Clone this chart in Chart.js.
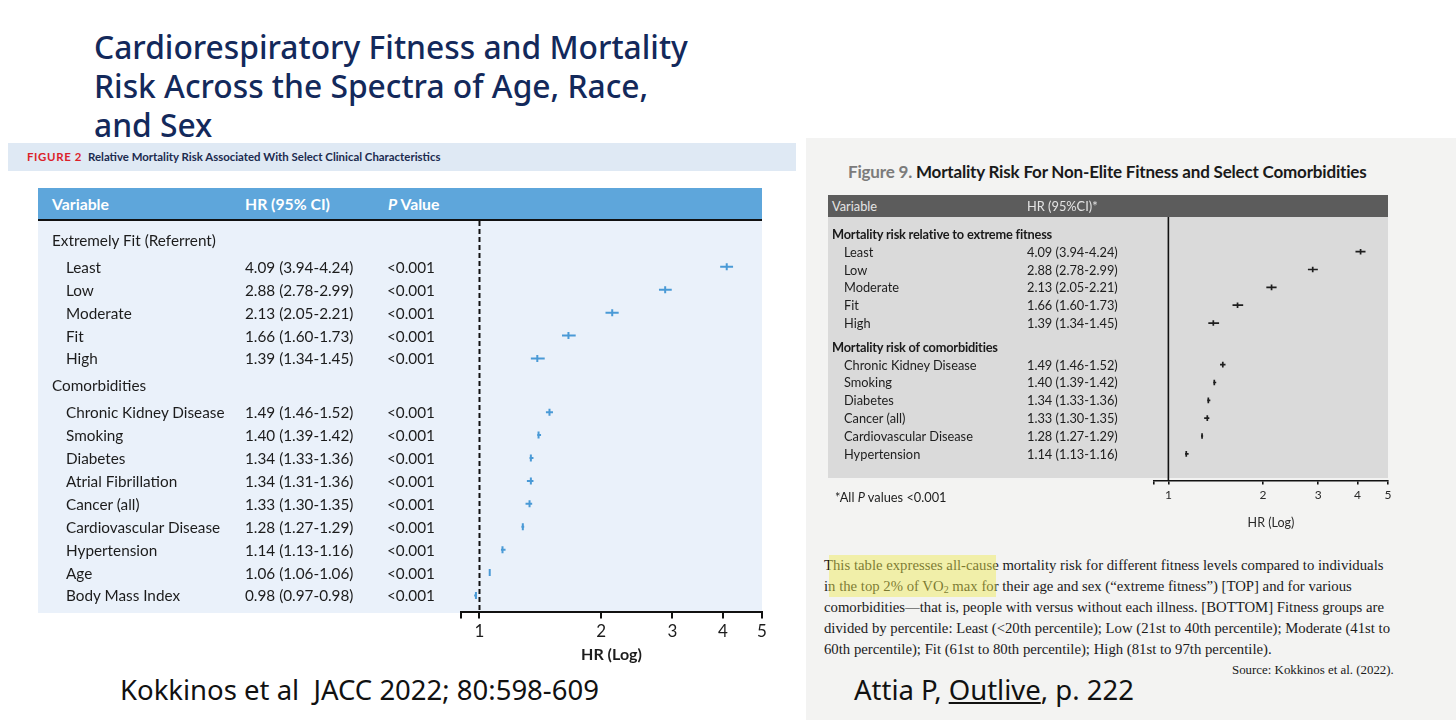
<!DOCTYPE html>
<html>
<head>
<meta charset="utf-8">
<script src="https://cdn.jsdelivr.net/npm/chart.js@4.4.1/dist/chart.umd.min.js"></script>
<style>
html, body { margin: 0; padding: 0; background: #fff; }
#page { position: relative; width: 1456px; height: 720px; overflow: hidden; font-family: Lato, "Noto Sans", sans-serif; }
.abs { position: absolute; white-space: nowrap; }
.box { position: absolute; }
.title { color: #13295b; font-family: "Noto Sans", sans-serif; font-weight: 500; }
.band-red { color: #dc1f2a; font-weight: 700; letter-spacing: 0.6px; transform-origin: 0 50%; }
.band-txt { color: #1b2b4f; font-weight: 700; transform-origin: 0 50%; }
.lhead { color: #fff; font-weight: 700; }
.ltxt { color: #1c1c1c; }
.rtxt { color: #1d1d1d; }
.rbold { color: #1a1a1a; font-weight: 700; letter-spacing: -0.2px; }
.rhead { color: #e4e4e4; }
.serif { font-family: "Liberation Serif", serif; color: #1a1a1a; }
.credit { font-family: "Noto Sans", sans-serif; color: #111; }
</style>
</head>
<body>
<div id="page">
  <div class="box" style="left:806px;top:138px;width:650px;height:582px;background:#f3f3f2;"></div>
  <div class="box" style="left:8px;top:143px;width:788px;height:28px;background:#dfe9f4;"></div>
  <div class="box" style="left:38px;top:188px;width:724px;height:31px;background:#5ea6db;border-bottom:2px solid #111;"></div>
  <div class="box" style="left:38px;top:221px;width:724px;height:392px;background:#eaf1fa;"></div>
  <div class="box" style="left:828px;top:195px;width:560px;height:22px;background:#5c5c5c;"></div>
  <div class="box" style="left:828px;top:217px;width:560px;height:261px;background:#dadada;"></div>
  <div class="box" style="left:38px;top:221px;width:752px;height:446px;"><canvas id="leftChart"></canvas></div>
  <div class="box" style="left:828px;top:217px;width:580px;height:316px;"><canvas id="rightChart"></canvas></div>
</div>
<script>
// values
const fitLabels = ["Least", "Low", "Moderate", "Fit", "High"];
const fitHR = [4.09, 2.88, 2.13, 1.66, 1.39];
const fitLow = [3.94, 2.78, 2.05, 1.60, 1.34];
const fitHigh = [4.24, 2.99, 2.21, 1.73, 1.45];

const comorbLabels = ["Chronic Kidney Disease", "Smoking", "Diabetes", "Atrial Fibrillation", "Cancer (all)",
  "Cardiovascular Disease", "Hypertension", "Age", "Body Mass Index"];
const comorbHR = [1.49, 1.40, 1.34, 1.34, 1.33, 1.28, 1.14, 1.06, 0.98];
const comorbLow = [1.46, 1.39, 1.33, 1.31, 1.30, 1.27, 1.13, 1.06, 0.97];
const comorbHigh = [1.52, 1.42, 1.36, 1.36, 1.35, 1.29, 1.16, 1.06, 0.98];
const pValueText = "<0.001";

const bookLabels = ["Chronic Kidney Disease", "Smoking", "Diabetes", "Cancer (all)", "Cardiovascular Disease", "Hypertension"];
const bookHR = [1.49, 1.40, 1.34, 1.33, 1.28, 1.14];
const bookLow = [1.46, 1.39, 1.33, 1.30, 1.27, 1.13];
const bookHigh = [1.52, 1.42, 1.36, 1.35, 1.29, 1.16];

const leftGroups = ["Extremely Fit (Referrent)", "Comorbidities"];
const rightGroups = ["Mortality risk relative to extreme fitness", "Mortality risk of comorbidities"];
const hrTicks = [1, 2, 3, 4, 5];
const axisMin = 0.9;
const axisMax = 5;

const captionLines = [
  "This table expresses all-cause mortality risk for different fitness levels compared to individuals",
  "in the top 2% of VO<span style=\"font-size:68%;vertical-align:-2px\">2</span> max for their age and sex (\u201cextreme fitness\u201d) [TOP] and for various",
  "comorbidities\u2014that is, people with versus without each illness. [BOTTOM] Fitness groups are",
  "divided by percentile: Least (&lt;20th percentile); Low (21st to 40th percentile); Moderate (41st to",
  "60th percentile); Fit (61st to 80th percentile); High (81st to 97th percentile)."
];

const page = document.getElementById("page");
const mctx = document.createElement("canvas").getContext("2d");

function textWidth(text, weight, size, family) {
  mctx.font = `${weight} ${size}px ${family}`;
  return mctx.measureText(text).width;
}

function sizeFor(text, weight, family, target) {
  return 100 * target / textWidth(text, weight, 100, family);
}

function addText(html, x, y, cls, fs, lh) {
  const d = document.createElement("div");
  d.className = "abs " + cls;
  d.innerHTML = html;
  d.style.left = x + "px";
  d.style.top = (y - lh / 2) + "px";
  d.style.lineHeight = lh + "px";
  d.style.fontSize = fs + "px";
  page.appendChild(d);
  return d;
}

// condensed text: fixed size, squeezed horizontally to the measured width
function addSqueezed(text, x, y, cls, fs, weight, target) {
  const d = addText(text, x, y, cls, fs, 16);
  const w = textWidth(text, weight, fs, "Lato");
  d.style.transform = `scaleX(${(target / w).toFixed(3)})`;
  return d;
}

function fmtHR(v, lo, hi) {
  return `${v.toFixed(2)} (${lo.toFixed(2)}-${hi.toFixed(2)})`;
}

// row offsets inside the plot: group headers with their items
function rowLayout(sizes, first, headToItem, step, itemToHead) {
  const heads = [], items = [];
  let y = first;
  sizes.forEach(n => {
    heads.push(y);
    const list = [];
    y += headToItem;
    for (let i = 0; i < n; i++) {
      list.push(y);
      if (i < n - 1) y += step;
    }
    items.push(list);
    y += itemToHead;
  });
  return { heads, items };
}

function forestDatasets(hr, lo, hi, ys, color, lineW, tickR) {
  const ds = [{
    type: "scatter",
    data: hr.map((v, i) => ({ x: v, y: ys[i] })),
    pointStyle: "line",
    rotation: 90,
    pointRadius: tickR,
    pointHoverRadius: tickR,
    borderColor: color,
    borderWidth: lineW
  }];
  hr.forEach((v, i) => {
    ds.push({
      type: "line",
      data: [{ x: lo[i], y: ys[i] }, { x: hi[i], y: ys[i] }],
      borderColor: color,
      borderWidth: lineW,
      pointRadius: 0
    });
  });
  return ds;
}

function makeForest(id, datasets, o) {
  return new Chart(document.getElementById(id), {
    type: "scatter",
    data: { datasets },
    options: {
      responsive: true,
      maintainAspectRatio: false,
      animation: false,
      events: [],
      layout: { autoPadding: false, padding: { left: o.padLeft, right: o.padRight, top: 0, bottom: 0 } },
      plugins: { legend: { display: false }, tooltip: { enabled: false } },
      scales: {
        x: {
          type: "logarithmic",
          min: axisMin,
          max: axisMax,
          afterBuildTicks: axis => { axis.ticks = [axisMin, ...hrTicks].map(v => ({ value: v })); },
          ticks: {
            callback: v => hrTicks.includes(v) ? String(v) : "",
            font: { size: o.tickSize, family: "Lato" },
            color: o.textColor,
            padding: 3,
            maxRotation: 0,
            autoSkip: false
          },
          grid: { drawOnChartArea: false, drawTicks: true, tickLength: o.tickLen, color: "#111", lineWidth: o.axisW },
          border: { display: true, color: "#111", width: o.axisW },
          title: {
            display: true,
            text: "HR (Log)",
            color: o.textColor,
            font: { size: o.titleSize, weight: o.titleWeight, family: "Lato" },
            padding: { top: o.titlePad, bottom: 3 }
          }
        },
        y: { type: "linear", reverse: true, min: 0, max: o.yMax, display: false }
      }
    }
  });
}

function build() {
  // ---------- left figure ----------
  const titleFs = sizeFor("Cardiorespiratory Fitness and Mortality", 500, '"Noto Sans"', 594);
  addText("Cardiorespiratory Fitness and Mortality", 94, 46, "title", titleFs, 39);
  addText("Risk Across the Spectra of Age, Race,", 94, 85, "title", titleFs, 39);
  addText("and Sex", 94, 124, "title", titleFs, 39);

  addSqueezed("FIGURE 2", 27, 157, "band-red", 11, 700, 50);
  addSqueezed("Relative Mortality Risk Associated With Select Clinical Characteristics", 88, 157, "band-txt", 11.5, 700, 353);

  const lHeadFs = sizeFor("HR (95% CI)", 700, "Lato", 85);
  addText("Variable", 52, 204, "lhead", lHeadFs, 20);
  addText("HR (95% CI)", 245, 204, "lhead", lHeadFs, 20);
  addText("<i>P</i> Value", 388, 204, "lhead", lHeadFs, 20);

  const leftRows = rowLayout([fitLabels.length, comorbLabels.length], 19, 27, 23, 27);
  const leftYMax = 393;
  const leftDs = [
    ...forestDatasets(fitHR, fitLow, fitHigh, leftRows.items[0], "#4a9ad6", 2, 3.5),
    ...forestDatasets(comorbHR, comorbLow, comorbHigh, leftRows.items[1], "#4a9ad6", 2, 3.5),
    { type: "line", data: [{ x: 1, y: 0 }, { x: 1, y: leftYMax }], borderColor: "#111", borderWidth: 2,
      borderDash: [5, 3], pointRadius: 0 }
  ];
  const leftChart = makeForest("leftChart", leftDs, {
    padLeft: 423, padRight: 28, tickSize: 17, tickLen: 6, axisW: 2, textColor: "#1c1c1c",
    titleSize: 16, titleWeight: "bold", titlePad: 0, yMax: leftYMax
  });

  const lFs = sizeFor("Chronic Kidney Disease", 400, "Lato", 159);
  const ly = v => 221 + leftChart.scales.y.getPixelForValue(v);
  leftGroups.forEach((g, i) => addText(g, 52, ly(leftRows.heads[i]), "ltxt", lFs, 20));
  const leftSets = [[fitLabels, fitHR, fitLow, fitHigh], [comorbLabels, comorbHR, comorbLow, comorbHigh]];
  leftSets.forEach(([labels, hr, lo, hi], g) => {
    labels.forEach((name, i) => {
      const y = ly(leftRows.items[g][i]);
      addText(name, 66, y, "ltxt", lFs, 20);
      addText(fmtHR(hr[i], lo[i], hi[i]), 245, y, "ltxt", lFs, 20);
      addText(pValueText.replace("<", "&lt;"), 387, y, "ltxt", lFs, 20);
    });
  });

  // ---------- right figure ----------
  const figTitle = "Mortality Risk For Non-Elite Fitness and Select Comorbidities";
  const rTitleFs = sizeFor("Figure 9. " + figTitle, 700, "Lato", 534);
  addText(`<span style="color:#7b7b7b">Figure 9.</span> ${figTitle}`, 848, 172, "rbold", rTitleFs, 18);

  const rFs = sizeFor("Chronic Kidney Disease", 400, "Lato", 133);
  addText("Variable", 832, 206, "rhead", rFs, 16);
  addText("HR (95%CI)*", 1027, 206, "rhead", rFs, 16);

  const rightRows = rowLayout([fitLabels.length, bookLabels.length], 17, 18, 18, 24);
  const rightYMax = 266;
  const rightDs = [
    ...forestDatasets(fitHR, fitLow, fitHigh, rightRows.items[0], "#1e1e1e", 1.7, 2.8),
    ...forestDatasets(bookHR, bookLow, bookHigh, rightRows.items[1], "#1e1e1e", 1.7, 2.8),
    { type: "line", data: [{ x: 1, y: 0 }, { x: 1, y: rightYMax }], borderColor: "#111", borderWidth: 1.6, pointRadius: 0 }
  ];
  const rightChart = makeForest("rightChart", rightDs, {
    padLeft: 326, padRight: 20, tickSize: 12, tickLen: 4, axisW: 1.6, textColor: "#2a2a2a",
    titleSize: 12.5, titleWeight: "normal", titlePad: 10, yMax: rightYMax
  });

  const ry = v => 217 + rightChart.scales.y.getPixelForValue(v);
  const rHeadFs = sizeFor(rightGroups[0], 700, "Lato", 229);
  rightGroups.forEach((g, i) => addText(g, 832, ry(rightRows.heads[i]), "rbold", rHeadFs, 16));
  const rightSets = [[fitLabels, fitHR, fitLow, fitHigh], [bookLabels, bookHR, bookLow, bookHigh]];
  rightSets.forEach(([labels, hr, lo, hi], g) => {
    labels.forEach((name, i) => {
      const y = ry(rightRows.items[g][i]);
      addText(name, 844, y, "rtxt", rFs, 16);
      addText(fmtHR(hr[i], lo[i], hi[i]), 1027, y, "rtxt", rFs, 16);
    });
  });
  addText("*All <i>P</i> values &lt;0.001", 835, 497, "rtxt", rFs, 16);

  // caption below the book figure
  const capFs = sizeFor(captionLines[0], 400, '"Liberation Serif"', 560);
  captionLines.forEach((t, i) => addText(t, 824, 565 + i * 21, "serif", capFs, 20));
  const hl = document.createElement("div");
  hl.className = "box";
  Object.assign(hl.style, { left: "829px", top: "555px", width: "167px", height: "42px", background: "rgba(240,236,80,0.45)" });
  page.appendChild(hl);
  addText("Source: Kokkinos et al. (2022).", 1232, 670, "serif",
    sizeFor("Source: Kokkinos et al. (2022).", 400, '"Liberation Serif"', 162), 16);

  // credits
  const credFs = sizeFor("Kokkinos et al\u00a0\u00a0JACC 2022; 80:598-609", 400, '"Noto Sans"', 479);
  addText("Kokkinos et al&nbsp;&nbsp;JACC 2022; 80:598-609", 120, 690, "credit", credFs, 30);
  addText("Attia P, <u>Outlive</u>, p. 222", 854, 690, "credit", credFs, 30);
}

document.fonts.ready.then(build);
</script>
</body>
</html>
